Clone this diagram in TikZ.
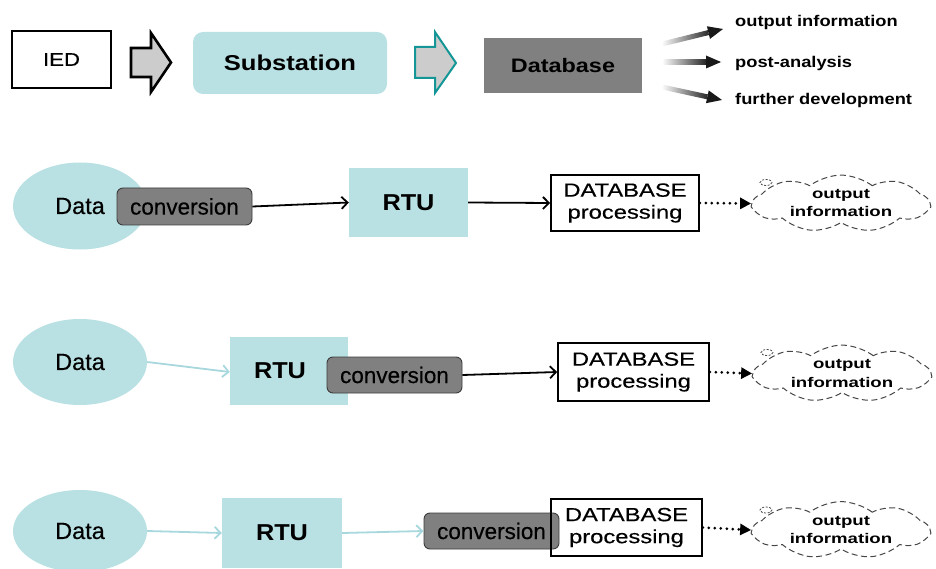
\documentclass[tikz,border=0pt]{standalone}
\usepackage{fontspec}
\setmainfont{Liberation Sans}
\newfontfamily\medium[FakeBold=0.35]{Liberation Sans}
\usepackage{graphicx}
\usetikzlibrary{shapes.geometric,shapes.symbols,arrows.meta,calc}

\definecolor{paleteal}{RGB}{185,224,227}
\definecolor{convgray}{RGB}{128,128,128}
\definecolor{convedge}{RGB}{60,60,60}
\definecolor{dbgray}{RGB}{128,128,128}
\definecolor{arrowfill}{RGB}{204,204,204}
\definecolor{tealedge}{RGB}{20,150,150}
\definecolor{lightlink}{RGB}{168,216,222}
\definecolor{cloudedge}{RGB}{70,70,70}

% horizontally widened lettering
\newcommand{\wide}[2]{\scalebox{#1}[1]{#2}}
\newcommand{\fs}[2]{\fontsize{#1}{#2}\selectfont}

% shaded arrow: fades in from the start, solid head at the end
\newcommand{\fadearrow}[2]{%
  \path ($(#2)!15pt!(#1)$) coordinate (fa-b);
  \shade[left color=white, right color=black!85]
    ($(#1)!2.5pt!90:(#2)$) -- ($(fa-b)!2.5pt!-90:(#1)$) --
    ($(fa-b)!2.5pt!90:(#1)$) -- ($(#1)!2.5pt!-90:(#2)$) -- cycle;
  \fill[black!90] ($(fa-b)!6.5pt!-90:(#1)$) -- (#2) -- ($(fa-b)!6.5pt!90:(#1)$) -- cycle;
}

\tikzset{
  iedbox/.style={draw=black, line width=1.6pt, fill=white, inner sep=0pt,
    minimum width=99pt, minimum height=57pt, font=\medium\fs{18.5}{20}},
  stationbox/.style={fill=paleteal, rounded corners=10pt, inner sep=0pt,
    minimum width=194pt, minimum height=62pt, font=\fs{21.5}{24}\bfseries},
  storebox/.style={fill=dbgray, inner sep=0pt,
    minimum width=158pt, minimum height=55pt, font=\fs{19.5}{22}\bfseries},
  toplabel/.style={anchor=west, inner sep=0pt, font=\fs{15.5}{18}\bfseries},
  dataell/.style={ellipse, fill=paleteal, inner sep=0pt, minimum width=134pt,
    font=\medium\fs{23.5}{26}},
  rtubox/.style={fill=paleteal, inner sep=0pt, font=\fs{23}{26}\bfseries},
  convbox/.style={fill=convgray, draw=convedge, line width=0.9pt, rounded corners=6pt,
    inner sep=0pt, minimum width=135pt, minimum height=37pt, font=\medium\fs{22.5}{25}},
  procbox/.style={draw=black, line width=1.6pt, inner sep=0pt, align=center,
    minimum width=150pt, minimum height=57pt, font=\medium\fs{19}{22}},
  outcloud/.style={cloud, cloud puffs=9, cloud puff arc=75, aspect=3.4, draw=cloudedge,
    dash pattern=on 6pt off 3.5pt, line width=1pt, inner sep=0pt, align=center,
    minimum width=176pt, minimum height=50pt, font=\fs{14}{18}\bfseries},
  darklink/.style={line width=1.8pt, -{Straight Barb[length=6pt,width=12pt]}},
  palelink/.style={draw=lightlink, line width=1.8pt, -{Straight Barb[length=6pt,width=12pt]}},
  dotlink/.style={line width=3pt, dash pattern=on 0pt off 6pt, line cap=round,
    -{Triangle[length=11pt,width=11pt,line cap=butt]}},
  blockarrow/.style={fill=arrowfill, line join=miter},
}

\newcommand{\cloudtext}{\wide{1.33}{output}\\\wide{1.33}{information}}
\newcommand{\proctext}{\wide{1.25}{DATABASE}\\\wide{1.25}{processing}}

\begin{document}
\begin{tikzpicture}[x=1pt,y=-1pt]
\useasboundingbox (0,0) rectangle (936,569);

% ---------------- overview chain ----------------
\node[iedbox] (ied) at (61.5,59.5) {\wide{1.2}{IED}};
\draw[blockarrow, draw=black, line width=2.6pt]
  (131,48) -- (151,48) -- (151,33) -- (171,62.5) -- (151,92) -- (151,77) -- (131,77) -- cycle;
\node[stationbox] (station) at (290,63) {\wide{1.19}{Substation}};
\draw[blockarrow, draw=tealedge, line width=2pt]
  (415,47) -- (435,47) -- (435,32) -- (456,63) -- (435,93) -- (435,78) -- (415,78) -- cycle;
\node[storebox] (store) at (563,65.5) {\wide{1.2}{Database}};

\node[toplabel] (lout) at (735,22) {\wide{1.18}{output information}};
\node[toplabel] (lpost) at (735,63) {\wide{1.18}{post-analysis}};
\node[toplabel] (lfurther) at (735,100) {\wide{1.18}{further development}};

\coordinate (g1s) at (662,44);  \coordinate (g1e) at (723,29);
\coordinate (g2s) at (662,62);  \coordinate (g2e) at (721,62);
\coordinate (g3s) at (662,87);  \coordinate (g3e) at (722,100);
\fadearrow{g1s}{g1e}
\fadearrow{g2s}{g2e}
\fadearrow{g3s}{g3e}

% ---------------- variant 1: conversion at the data source ----------------
\node[dataell, minimum height=87pt] (data1) at (80,206) {Data};
\node[convbox] (conv1) at (184.5,206.5) {conversion};
\node[rtubox, minimum width=119pt, minimum height=69pt] (rtu1) at (408.5,202.5) {\wide{1.1}{RTU}};
\node[procbox, minimum width=148pt, minimum height=56pt] (proc1) at (625,203) {\proctext};
\node[outcloud] (cloud1) at (841,203.5) {\cloudtext};
\draw[cloudedge, dash pattern=on 2pt off 1.5pt, line width=0.8pt] ($(cloud1.center)+(-75,-21)$) ellipse (6 and 3);
\draw[darklink] (conv1.east) -- (rtu1.west);
\draw[darklink] (rtu1.east) -- (proc1.west);
\draw[dotlink] (proc1.east) -- (cloud1.west);

% ---------------- variant 2: conversion at the RTU ----------------
\node[dataell, minimum height=86pt] (data2) at (80,362) {Data};
\node[rtubox, minimum width=118pt, minimum height=68pt] (rtu2) at (289,371) {\wide{1.1}{RTU}\hspace*{18pt}};
\node[convbox, minimum height=36pt] (conv2) at (394.5,375) {conversion};
\node[procbox, minimum width=151pt, minimum height=58pt] (proc2) at (633.5,372) {\proctext};
\node[outcloud] (cloud2) at (842,373.5) {\cloudtext};
\draw[cloudedge, dash pattern=on 2pt off 1.5pt, line width=0.8pt] ($(cloud2.center)+(-75,-21)$) ellipse (6 and 3);
\draw[palelink] (data2.east) -- (rtu2.west |- 0,372);
\draw[darklink] (conv2.east) -- (proc2.west);
\draw[dotlink] (proc2.east) -- (cloud2.west);

% ---------------- variant 3: conversion at the database ----------------
\node[dataell, minimum height=82pt] (data3) at (80,531) {Data};
\node[rtubox, minimum width=120pt, minimum height=70pt] (rtu3) at (282,533) {\wide{1.1}{RTU}};
\node[convbox, minimum height=36pt] (conv3) at (491.5,531) {conversion};
\node[procbox, minimum width=151pt, minimum height=57pt] (proc3) at (626.5,527.5) {\proctext};
\node[outcloud, minimum height=49pt] (cloud3) at (841,530) {\cloudtext};
\draw[cloudedge, dash pattern=on 2pt off 1.5pt, line width=0.8pt] ($(cloud3.center)+(-75,-20)$) ellipse (6 and 3);
\draw[palelink] (data3.east) -- (rtu3.west);
\draw[palelink] (rtu3.east) -- (conv3.west);
\draw[dotlink] (proc3.east) -- (cloud3.west);

\end{tikzpicture}
\end{document}
